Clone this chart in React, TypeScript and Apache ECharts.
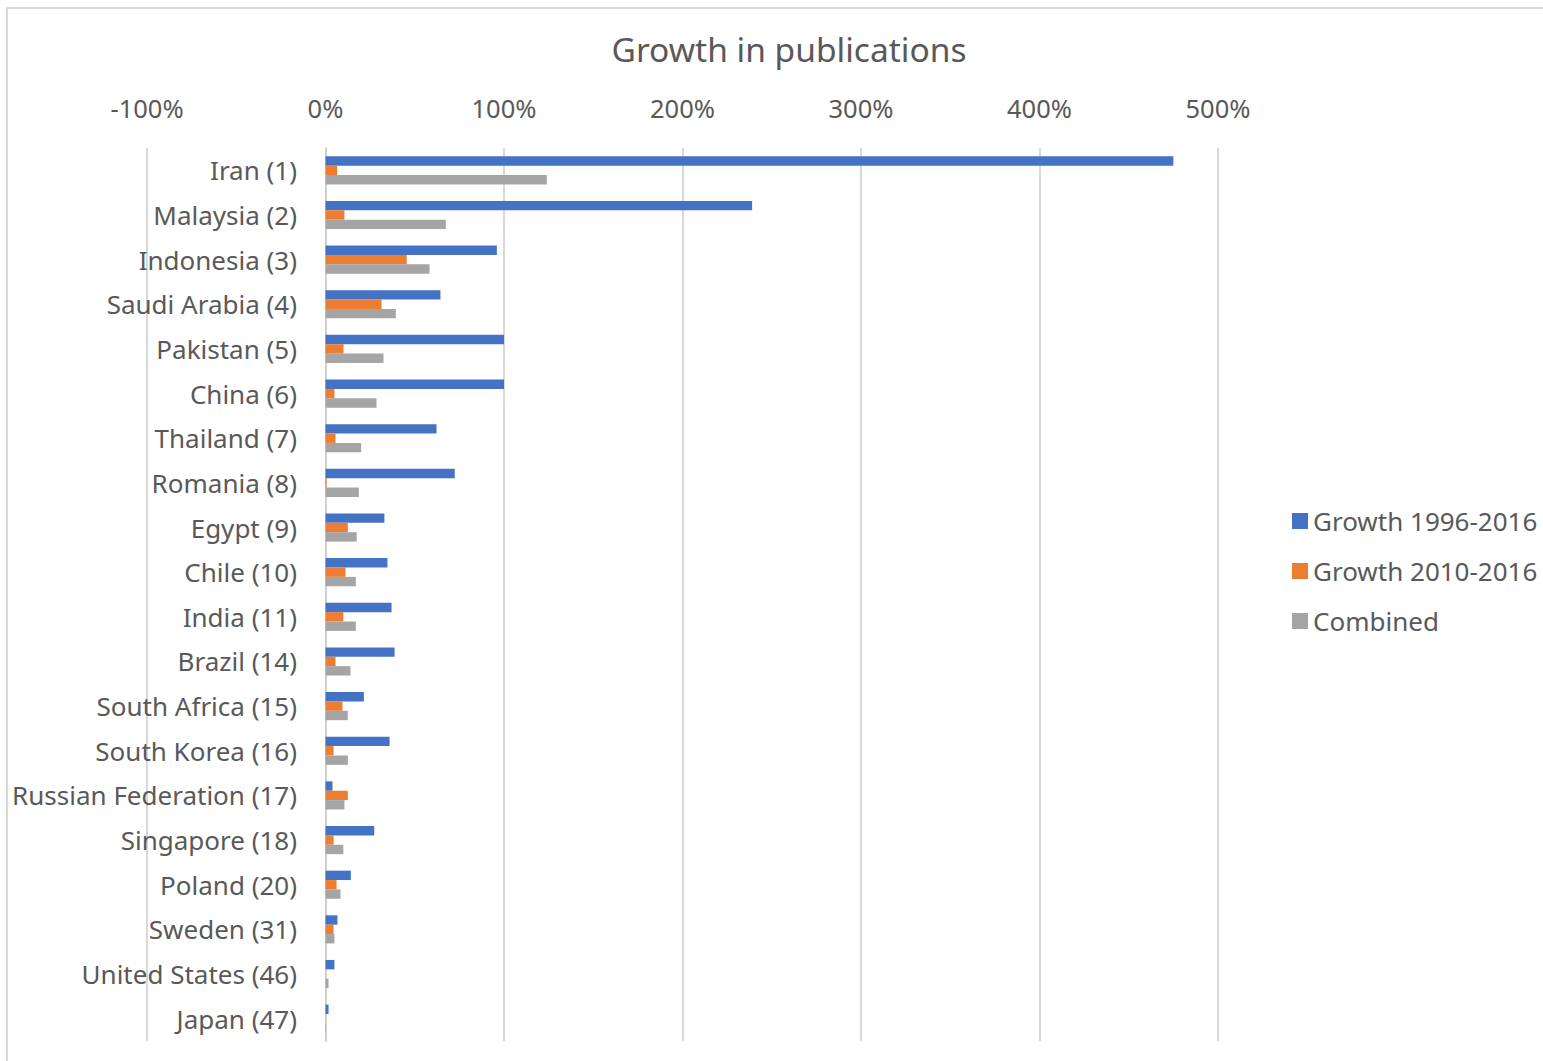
import React, { useEffect, useRef } from "react";
import * as echarts from "echarts";

const categories = [
  "Iran (1)", "Malaysia (2)", "Indonesia (3)", "Saudi Arabia (4)", "Pakistan (5)",
  "China (6)", "Thailand (7)", "Romania (8)", "Egypt (9)", "Chile (10)",
  "India (11)", "Brazil (14)", "South Africa (15)", "South Korea (16)",
  "Russian Federation (17)", "Singapore (18)", "Poland (20)", "Sweden (31)",
  "United States (46)", "Japan (47)",
];
const growth1996 = [4.75, 2.39, 0.96, 0.644, 1.0, 1.0, 0.622, 0.724, 0.33, 0.347, 0.37, 0.387, 0.215, 0.359, 0.039, 0.273, 0.142, 0.067, 0.05, 0.017];
const growth2010 = [0.065, 0.106, 0.455, 0.314, 0.101, 0.05, 0.056, 0.006, 0.125, 0.112, 0.1, 0.056, 0.095, 0.045, 0.125, 0.045, 0.062, 0.045, 0.0, 0.0];
const combined = [1.24, 0.674, 0.583, 0.394, 0.325, 0.286, 0.2, 0.187, 0.175, 0.17, 0.17, 0.14, 0.125, 0.125, 0.106, 0.1, 0.084, 0.05, 0.017, 0.003];
const seriesNames = ["Growth 1996-2016", "Growth 2010-2016", "Combined"];
const colors = ["#4472C4", "#ED7D31", "#A5A5A5"];

export default function App() {
  const ref = useRef<HTMLDivElement>(null);
  useEffect(() => {
    const chart = echarts.init(ref.current!, null, { renderer: "svg" });
    const font = "'Noto Sans', sans-serif";
    const data = [growth1996, growth2010, combined];
    chart.setOption({
      animation: false,
      backgroundColor: "#ffffff",
      textStyle: { fontFamily: font },
      title: {
        text: "Growth in publications",
        left: 784,
        textAlign: "center",
        top: 27,
        textStyle: { fontFamily: font, fontSize: 33.5, fontWeight: "normal", color: "#595959" },
      },
      graphic: [
        {
          type: "rect",
          shape: { x: 7, y: 8, width: 1545, height: 1060 },
          style: { fill: "none", stroke: "#d9d9d9", lineWidth: 2 },
          silent: true,
        },
      ],
      legend: {
        orient: "vertical",
        left: 1287,
        top: 503,
        itemWidth: 16,
        itemHeight: 16,
        itemGap: 24,
        icon: "rect",
        textStyle: { fontFamily: font, fontSize: 26, color: "#595959" },
        data: seriesNames,
      },
      grid: { left: 147, right: 325, top: 148, bottom: 20, containLabel: false, outerBoundsMode: "none" },
      xAxis: {
        type: "value",
        position: "top",
        min: -1,
        max: 5,
        interval: 1,
        axisLine: { show: false },
        axisTick: { show: false },
        splitLine: { show: true, lineStyle: { color: "#d9d9d9", width: 2 } },
        axisLabel: {
          margin: 27,
          fontSize: 25.5,
          color: "#595959",
          fontFamily: font,
          formatter: (v: number) => `${Math.round(v * 100)}%`,
        },
      },
      yAxis: {
        type: "category",
        inverse: true,
        data: categories,
        offset: -179,
        axisLine: { show: true, onZero: false, lineStyle: { color: "#d0d0d0", width: 2 } },
        axisTick: { show: false },
        axisLabel: { margin: 29, fontSize: 26, color: "#595959", fontFamily: font },
      },
      series: seriesNames.map((name, i) => ({
        name,
        type: "bar",
        data: data[i],
        barGap: "0%",
        barCategoryGap: "37%",
        itemStyle: { color: colors[i] },
      })),
    });
    return () => chart.dispose();
  }, []);
  return (
    <div
      ref={ref}
      style={{ position: "fixed", left: 0, top: 0, width: 1543, height: 1061 }}
    />
  );
}
